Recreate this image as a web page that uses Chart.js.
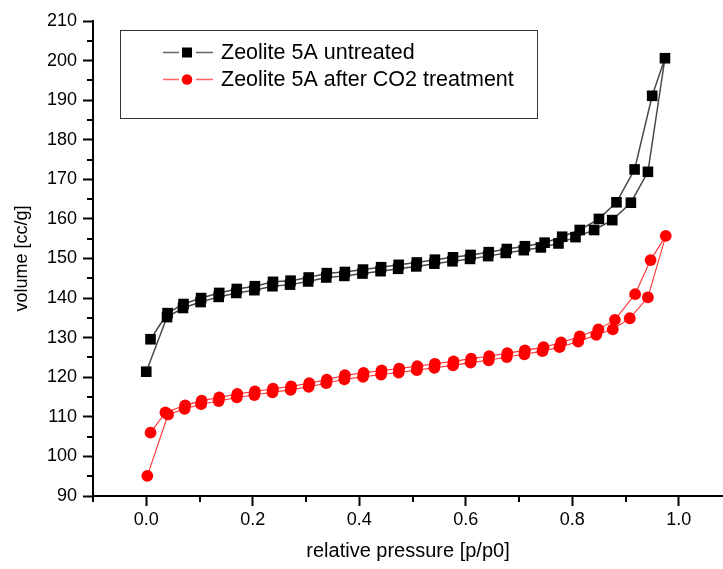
<!DOCTYPE html>
<html>
<head>
<meta charset="utf-8">
<script src="https://cdn.jsdelivr.net/npm/chart.js@4/dist/chart.umd.min.js"></script>
<style>
html,body{margin:0;padding:0;background:#fff;overflow:hidden}
#wrap{width:723px;height:569px;position:relative}
</style>
</head>
<body>
<div id="wrap"><canvas id="c"></canvas></div>
<script>
// ---- data (adsorption branch, then desorption branch) ----
const seriesNames = ['Zeolite 5A untreated', 'Zeolite 5A after CO2 treatment'];

const untreatedP = [0.000,0.039,0.069,0.102,0.136,0.169,0.203,0.237,0.270,0.304,0.338,0.372,0.406,0.440,0.473,0.507,0.541,0.575,0.608,0.642,0.675,0.709,0.741,0.774,0.806,0.841,0.875,0.910,0.942,0.974,
                    0.950,0.917,0.883,0.850,0.814,0.781,0.748,0.711,0.677,0.643,0.609,0.576,0.542,0.508,0.474,0.441,0.407,0.373,0.339,0.305,0.271,0.238,0.204,0.170,0.137,0.103,0.070,0.040,0.008];
const untreatedV = [121.4,135.2,137.5,139.0,140.3,141.3,142.0,143.0,143.4,144.2,145.2,145.6,146.2,146.8,147.4,148.0,148.7,149.3,149.9,150.6,151.4,152.1,152.8,153.8,155.4,157.2,159.7,164.1,171.9,200.6,
                    191.1,172.5,164.2,160.0,157.2,155.5,154.0,153.1,152.4,151.6,150.9,150.3,149.7,149.0,148.4,147.8,147.2,146.6,146.3,145.2,144.4,144.1,143.0,142.3,141.3,140.0,138.5,136.2,129.6];

const treatedP = [0.002,0.041,0.072,0.103,0.136,0.170,0.203,0.237,0.271,0.305,0.338,0.372,0.407,0.441,0.474,0.508,0.541,0.576,0.609,0.643,0.677,0.710,0.744,0.776,0.811,0.845,0.876,0.908,0.942,0.9755,
                  0.947,0.918,0.880,0.849,0.814,0.779,0.746,0.711,0.678,0.644,0.610,0.577,0.542,0.509,0.475,0.442,0.408,0.373,0.339,0.306,0.272,0.238,0.204,0.171,0.137,0.104,0.073,0.036,0.008];
const treatedV = [95.1,110.6,112.0,113.2,114.0,114.9,115.5,116.2,116.8,117.6,118.5,119.5,120.1,120.7,121.2,121.8,122.4,123.0,123.7,124.3,125.1,125.8,126.6,127.6,129.0,130.7,132.1,134.9,140.2,155.7,
                  149.6,141.0,134.5,132.1,130.3,128.8,127.6,126.8,126.1,125.3,124.7,124.0,123.4,122.8,122.2,121.7,121.1,120.5,119.4,118.5,117.7,117.1,116.4,115.8,114.9,114.1,112.9,111.1,106.0];

const xTickValues = [0.0,0.2,0.4,0.6,0.8,1.0];
const yTickValues = [90,100,110,120,130,140,150,160,170,180,190,200,210];
const xTitle = 'relative pressure [p/p0]';
const yTitle = 'volume [cc/g]';

// ---- helpers ----
const toPoints = (xs, ys) => xs.map((x, i) => ({x: x, y: ys[i]}));
const FONT = '"Liberation Sans", Arial, Helvetica, sans-serif';

const minorTicks = {
  id: 'minorTicks',
  afterDraw(chart) {
    const ctx = chart.ctx, xs = chart.scales.x, ys = chart.scales.y, a = chart.chartArea;
    ctx.save();
    ctx.strokeStyle = '#000';
    ctx.lineWidth = 2;
    ctx.beginPath();
    for (let v = xs.min; v <= xs.max + 1e-9; v += 0.2) {
      const px = Math.round(xs.getPixelForValue(v));
      ctx.moveTo(px, a.bottom); ctx.lineTo(px, a.bottom + 6);
    }
    for (let v = ys.min + 5; v < ys.max; v += 10) {
      const py = Math.round(ys.getPixelForValue(v));
      ctx.moveTo(a.left, py); ctx.lineTo(a.left - 6, py);
    }
    ctx.stroke();
    ctx.restore();
  }
};

const boxLegend = {
  id: 'boxLegend',
  afterDatasetsDraw(chart) {
    const ctx = chart.ctx;
    ctx.save();
    ctx.strokeStyle = '#333';
    ctx.lineWidth = 1;
    ctx.strokeRect(120.5, 30.5, 417, 88);
    chart.data.datasets.forEach((ds, i) => {
      const y = 52.5 + i * 27;
      const mx = 187;
      ctx.strokeStyle = ds.legendLine;
      ctx.lineWidth = 1.5;
      ctx.beginPath();
      ctx.moveTo(163, y); ctx.lineTo(179, y);
      ctx.moveTo(196, y); ctx.lineTo(213, y);
      ctx.stroke();
      ctx.fillStyle = ds.pointBackgroundColor;
      if (ds.pointStyle === 'rect') {
        ctx.fillRect(mx - 5, y - 5, 10, 10);
      } else {
        ctx.beginPath(); ctx.arc(mx, y, 5.3, 0, Math.PI * 2); ctx.fill();
      }
      ctx.fillStyle = '#000';
      ctx.font = '21.5px ' + FONT;
      ctx.textBaseline = 'middle';
      ctx.textAlign = 'left';
      ctx.fillText(ds.label, 221, y + 0.5);
    });
    ctx.restore();
  }
};

new Chart(document.getElementById('c'), {
  type: 'scatter',
  data: {
    datasets: [
      {
        label: seriesNames[0],
        data: toPoints(untreatedP, untreatedV),
        showLine: true,
        borderColor: '#4a4a4a',
        legendLine: '#666',
        borderWidth: 1.5,
        pointStyle: 'rect',
        pointRadius: 7.5,
        pointBackgroundColor: '#000',
        pointBorderWidth: 0,
        tension: 0
      },
      {
        label: seriesNames[1],
        data: toPoints(treatedP, treatedV),
        showLine: true,
        borderColor: '#ff3030',
        legendLine: '#ff6060',
        borderWidth: 1.1,
        pointStyle: 'circle',
        pointRadius: 5.9,
        pointBackgroundColor: '#ff0000',
        pointBorderWidth: 0,
        tension: 0
      }
    ]
  },
  options: {
    responsive: true,
    maintainAspectRatio: false,
    animation: false,
    events: [],
    layout: {autoPadding: false, padding: {top: 21, left: 0, right: 0, bottom: 0}},
    plugins: {legend: {display: false}, tooltip: {enabled: false}},
    scales: {
      x: {
        type: 'linear',
        min: -0.1,
        max: 1.083,
        afterBuildTicks: s => { s.ticks = xTickValues.map(v => ({value: v})); },
        afterFit: s => { s.height = 73; s.paddingRight = 0; s.paddingLeft = 0; },
        border: {display: true, color: '#000', width: 2},
        grid: {display: true, drawOnChartArea: false, drawTicks: true, tickLength: 10, tickWidth: 2, tickColor: '#000'},
        ticks: {
          autoSkip: false, maxRotation: 0, padding: 3, color: '#000',
          font: {family: FONT, size: 18},
          callback: v => Number(v).toFixed(1)
        },
        title: {display: true, text: xTitle, color: '#000', font: {family: FONT, size: 20}, padding: {top: 0, bottom: 6}}
      },
      y: {
        type: 'linear',
        min: 90,
        max: 210,
        afterBuildTicks: s => { s.ticks = yTickValues.map(v => ({value: v})); },
        afterFit: s => { s.width = 93; },
        border: {display: true, color: '#000', width: 2},
        grid: {display: true, drawOnChartArea: false, drawTicks: true, tickLength: 10, tickWidth: 2, tickColor: '#000'},
        ticks: {
          autoSkip: false, padding: 6, color: '#000',
          font: {family: FONT, size: 18},
          callback: v => String(v)
        },
        title: {display: true, text: yTitle, color: '#000', font: {family: FONT, size: 18}, padding: {top: 11, bottom: 0}}
      }
    }
  },
  plugins: [minorTicks, boxLegend]
});
</script>
</body>
</html>
